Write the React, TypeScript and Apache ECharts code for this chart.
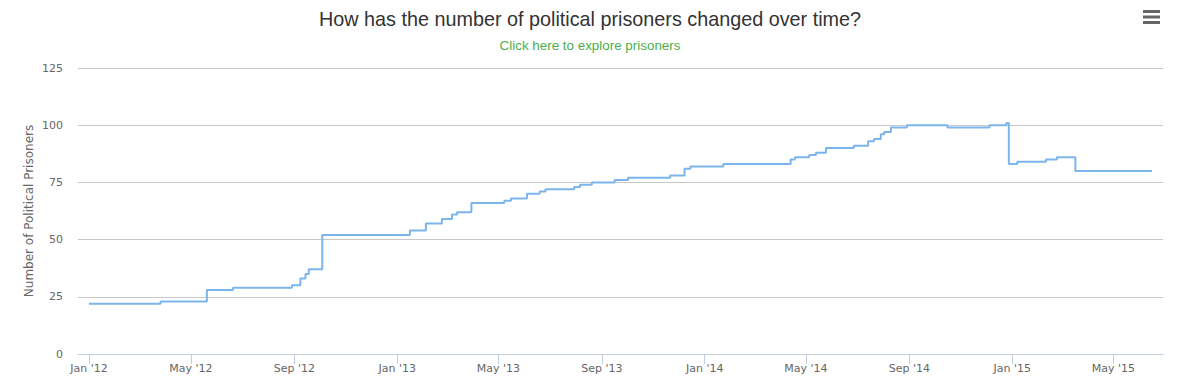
import React, { useEffect, useRef } from "react";
import * as echarts from "echarts";

const titleText = "How has the number of political prisoners changed over time?";
const subtitleText = "Click here to explore prisoners";
const yAxisName = "Number of Political Prisoners";

// dates at which the count changed, and the count from that date on
const changeDates = [
  "2012-01-01", "2012-03-26", "2012-05-20", "2012-06-20", "2012-08-29", "2012-09-08",
  "2012-09-14", "2012-09-18", "2012-10-04", "2013-01-16", "2013-02-04", "2013-02-23",
  "2013-03-07", "2013-03-13", "2013-03-30", "2013-05-08", "2013-05-16", "2013-06-04",
  "2013-06-19", "2013-06-26", "2013-07-30", "2013-08-06", "2013-08-20", "2013-09-16",
  "2013-10-02", "2013-11-21", "2013-12-08", "2013-12-15", "2014-01-23", "2014-04-13",
  "2014-04-18", "2014-05-05", "2014-05-13", "2014-05-25", "2014-06-27", "2014-07-14",
  "2014-07-21", "2014-07-29", "2014-08-02", "2014-08-10", "2014-08-29", "2014-10-16",
  "2014-12-05", "2014-12-25", "2014-12-28", "2015-01-07", "2015-02-10", "2015-02-23",
  "2015-03-17", "2015-06-16",
];
const prisonerCounts = [
  22, 23, 28, 29, 30, 33,
  35, 37, 52, 54, 57, 59,
  61, 62, 66, 67, 68, 70,
  71, 72, 73, 74, 75, 76,
  77, 78, 81, 82, 83, 85,
  86, 87, 88, 90, 91, 93,
  94, 96, 97, 99, 100, 99,
  100, 101, 83, 84, 85, 86,
  80, 80,
];

const xTickDates = [
  "2012-01-01", "2012-05-01", "2012-09-01", "2013-01-01", "2013-05-01", "2013-09-01",
  "2014-01-01", "2014-05-01", "2014-09-01", "2015-01-01", "2015-05-01",
];
const monthNames = ["Jan", "Feb", "Mar", "Apr", "May", "Jun", "Jul", "Aug", "Sep", "Oct", "Nov", "Dec"];
const xMinDate = "2011-12-19";
const xMaxDate = "2015-06-29";
const yTicks = [0, 25, 50, 75, 100, 125];

function ts(s: string): number {
  const [y, m, d] = s.split("-").map(Number);
  return Date.UTC(y, m - 1, d);
}

export default function App() {
  const ref = useRef<HTMLDivElement>(null);
  useEffect(() => {
    if (!ref.current) return;
    const chart = echarts.init(ref.current, undefined, { renderer: "svg" });
    const data = changeDates.map((d, i) => [ts(d), prisonerCounts[i]]);
    const font = "'Liberation Sans', Arial, sans-serif";
    const axisFont = "'DejaVu Sans', Verdana, sans-serif";
    chart.setOption({
      animation: false,
      backgroundColor: "#ffffff",
      textStyle: { fontFamily: font },
      title: {
        text: titleText,
        subtext: subtitleText,
        left: "center",
        top: 4,
        itemGap: 10,
        textStyle: { fontFamily: font, fontSize: 19.8, fontWeight: "normal", color: "#333333" },
        subtextStyle: { fontFamily: font, fontSize: 13.4, color: "#4cae4c" },
      },
      grid: { left: 78, right: 17, top: 68, bottom: 26, containLabel: false },
      xAxis: {
        type: "value",
        min: ts(xMinDate),
        max: ts(xMaxDate),
        axisLine: { show: true, lineStyle: { color: "#C0D0E0", width: 1 } },
        axisTick: {
          show: true,
          length: 10,
          lineStyle: { color: "#C0D0E0" },
          customValues: xTickDates.map(ts),
        },
        axisLabel: {
          color: "#666666",
          fontFamily: axisFont,
          fontSize: 11,
          margin: 9,
          showMinLabel: true,
          showMaxLabel: true,
          customValues: xTickDates.map(ts),
          formatter: (v: number) => {
            const d = new Date(v);
            return monthNames[d.getUTCMonth()] + " '" + String(d.getUTCFullYear()).slice(2);
          },
        },
        splitLine: { show: false },
      },
      yAxis: {
        type: "value",
        min: yTicks[0],
        max: yTicks[yTicks.length - 1],
        interval: 25,
        name: yAxisName,
        nameLocation: "middle",
        nameGap: 43,
        nameMoveOverlap: false,
        nameTextStyle: { color: "#666666", fontSize: 12, fontFamily: axisFont },
        axisLine: { show: false },
        axisTick: { show: false },
        axisLabel: { color: "#666666", fontSize: 11, margin: 15, fontFamily: axisFont },
        splitLine: { lineStyle: { color: "#C8C8C8", width: 1 } },
      },
      series: [
        {
          type: "line",
          data,
          step: "end",
          showSymbol: false,
          symbol: "none",
          lineStyle: { color: "#7CB5EC", width: 2 },
          itemStyle: { color: "#7CB5EC" },
        },
      ],
      graphic: [
        { type: "rect", shape: { x: 1143, y: 10, width: 17, height: 3 }, style: { fill: "#666666" } },
        { type: "rect", shape: { x: 1143, y: 15.5, width: 17, height: 3 }, style: { fill: "#666666" } },
        { type: "rect", shape: { x: 1143, y: 21, width: 17, height: 3 }, style: { fill: "#666666" } },
      ],
    });
    return () => chart.dispose();
  }, []);
  return (
    <div
      ref={ref}
      style={{ position: "fixed", left: 0, top: 0, width: 1180, height: 380 }}
    />
  );
}
